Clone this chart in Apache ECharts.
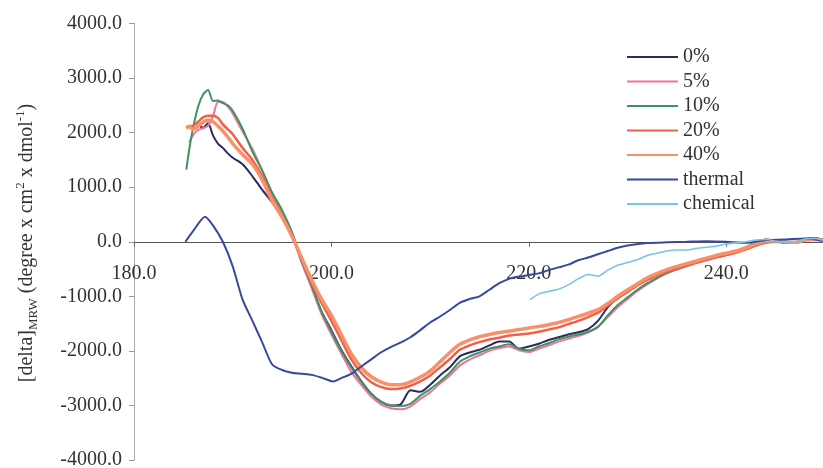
<!DOCTYPE html>
<html>
<head>
<meta charset="utf-8">
<title>CD spectra</title>
<script src="https://cdn.jsdelivr.net/npm/echarts@6/dist/echarts.min.js"></script>
<style>
  html, body { margin: 0; padding: 0; background: #ffffff; }
  #chart { width: 823px; height: 468px; }
</style>
</head>
<body>
<div id="chart"></div>
<script>
// Wavelength grid (nm) shared by the concentration series
const wavelength = [185.3, 185.6, 186, 186.5, 187, 187.5, 188, 188.5, 189, 189.5, 190,
  191, 192, 193, 194, 195, 196, 197, 198, 199, 200, 201, 202, 203, 204, 205, 206, 207, 208, 209,
  210, 211, 212, 213, 214, 215, 216, 217, 218, 219, 220, 221, 222, 223, 224, 225, 226, 227, 228, 229,
  230, 231, 232, 233, 234, 235, 236, 237, 238, 239, 240, 241, 242, 243, 244, 245, 246, 247, 248, 249, 249.8];

const conc0 = [null, null, null, 2150, 2090, 2170, 1950, 1800, 1720, 1620, 1540,
  1420, 1200, 950, 720, 470, 120, -380, -830, -1280, -1620, -1980, -2280, -2550, -2780, -2930, -3000, -2980, -2720, -2750,
  -2620, -2450, -2300, -2100, -2030, -1980, -1900, -1830, -1830, -1960, -1920, -1870, -1800, -1750, -1700, -1660, -1600, -1450, -1200, -1020,
  -900, -780, -680, -600, -530, -470, -420, -370, -320, -270, -230, -180, -100, -10, 40, 20, -10, -10, 50, 70, 40];

const conc5 = [null, 1820, 1960, 2050, 2080, 2130, 2300, 2560, 2560, 2480, 2350,
  2020, 1700, 1300, 880, 540, 150, -380, -850, -1330, -1700, -2050, -2380, -2620, -2830, -2980, -3050, -3070, -3020, -2880,
  -2760, -2600, -2450, -2270, -2160, -2080, -2000, -1950, -1920, -1990, -2020, -1960, -1900, -1830, -1780, -1730, -1660, -1560, -1380, -1200,
  -1050, -900, -780, -670, -580, -510, -450, -390, -340, -290, -250, -200, -120, -30, 20, 10, -20, -20, 40, 60, 30];

const conc10 = [1320, 1700, 2100, 2480, 2700, 2780, 2580, 2590, 2540, 2500, 2400,
  2070, 1650, 1300, 900, 580, 180, -350, -800, -1280, -1650, -2000, -2300, -2560, -2780, -2930, -3000, -3010, -2970, -2820,
  -2700, -2560, -2400, -2200, -2100, -2030, -1960, -1920, -1880, -1960, -1990, -1920, -1860, -1790, -1740, -1700, -1650, -1560, -1350, -1160,
  -1020, -880, -760, -660, -570, -500, -440, -380, -330, -280, -240, -190, -110, -20, 30, 20, -20, -10, 50, 60, 30];

const conc20 = [2100, 2120, 2130, 2200, 2280, 2310, 2310, 2270, 2150, 2060, 1970,
  1720, 1500, 1200, 800, 480, 120, -320, -750, -1120, -1450, -1800, -2150, -2400, -2570, -2660, -2700, -2690, -2640, -2560,
  -2450, -2300, -2150, -1980, -1900, -1840, -1790, -1760, -1720, -1700, -1680, -1650, -1610, -1570, -1510, -1450, -1380, -1300, -1170, -1040,
  -920, -800, -700, -620, -550, -490, -430, -380, -330, -280, -240, -200, -140, -70, -20, 0, -20, -20, 30, 50, 20];

const conc40 = [2080, 2110, 2060, 2120, 2190, 2230, 2200, 2120, 2030, 1920, 1800,
  1600, 1420, 1130, 750, 450, 100, -300, -700, -1050, -1350, -1700, -2050, -2300, -2470, -2570, -2620, -2620, -2570, -2480,
  -2370, -2200, -2030, -1880, -1800, -1740, -1700, -1665, -1640, -1610, -1580, -1555, -1520, -1480, -1430, -1370, -1310, -1245, -1130, -1000,
  -880, -770, -660, -580, -510, -450, -400, -350, -300, -250, -210, -170, -110, -40, 10, 20, 0, -10, 30, 40, 20];

// Thermally denatured sample
const thermalWl = [185.2, 186, 187.2, 188, 189, 190, 191, 192, 193, 194, 195, 196, 197, 198, 199, 200.2,
  201, 202, 203, 204, 205, 206, 207, 208, 209, 210, 211, 212, 213, 214, 215, 216, 217, 218, 219, 220,
  221, 222, 223, 224, 225, 226, 227, 228, 229, 230, 232, 234, 236, 238, 240, 242, 244, 246, 248, 249.8];
const thermal = [0, 200, 460, 300, 0, -450, -1060, -1450, -1850, -2250, -2350, -2400, -2420, -2440, -2490, -2560,
  -2500, -2420, -2290, -2160, -2030, -1930, -1850, -1750, -1620, -1480, -1370, -1250, -1120, -1050, -1000, -880, -760, -680, -640, -610,
  -580, -520, -470, -420, -340, -290, -230, -170, -110, -70, -25, -10, 0, 10, 0, -20, 30, 40, 60, 20];

// Chemically denatured sample
const chemicalWl = [220.1, 221, 222, 223, 224, 225, 226, 227, 228, 229, 230, 231, 232, 233, 234, 235,
  236, 237, 238, 239, 240, 241, 242, 243, 244, 245, 246, 247, 248, 249, 249.8];
const chemical = [-1060, -960, -910, -870, -790, -680, -600, -630, -520, -430, -380, -330, -250, -210, -170, -150,
  -150, -120, -100, -80, -40, -20, 0, 30, 40, 10, -10, 0, 50, 60, 30];

const xTicks = [180, 200, 220, 240];
const yTicks = [-4000, -3000, -2000, -1000, 0, 1000, 2000, 3000, 4000];

const seriesNames = ['0%', '5%', '10%', '20%', '40%', 'thermal', 'chemical'];
const seriesColors = ['#2b2b5e', '#f0739a', '#3d9460', '#f0604a', '#f8906a', '#3848a0', '#78c4e6'];
const seriesWidths = [2, 2, 2, 2.5, 3.5, 2, 1.6];

function pairs(xs, ys) {
  return xs.map((x, i) => [x, ys[i]]);
}

const seriesData = [
  pairs(wavelength, conc0),
  pairs(wavelength, conc5),
  pairs(wavelength, conc10),
  pairs(wavelength, conc20),
  pairs(wavelength, conc40),
  pairs(thermalWl, thermal),
  pairs(chemicalWl, chemical)
];

const FONT = '"Liberation Serif", "DejaVu Serif", serif';
const GRID_TOP = 23.5;
const GRID_BOTTOM = 8;
const CHART_H = 468;
// distance from the bottom of the plot to the zero line
const zeroLift = (CHART_H - GRID_BOTTOM - GRID_TOP) / 2;

const chart = echarts.init(document.getElementById('chart'), null, { renderer: 'canvas' });

chart.setOption({
  animation: false,
  backgroundColor: '#ffffff',
  grid: { left: 134, right: -2, top: GRID_TOP, bottom: GRID_BOTTOM, containLabel: false, outerBoundsMode: 'none' },
  legend: {
    orient: 'vertical',
    left: 627,
    top: 47,
    padding: 0,
    itemWidth: 51,
    itemHeight: 2,
    itemGap: 4.5,
    icon: 'rect',
    data: seriesNames,
    textStyle: { fontFamily: FONT, fontSize: 20, color: '#333' }
  },
  xAxis: {
    type: 'value',
    position: 'bottom',
    offset: -zeroLift,
    min: 180,
    max: 250,
    interval: 20,
    axisLine: { onZero: false, lineStyle: { color: '#555', width: 1 } },
    axisTick: { show: true, inside: false, length: 5, lineStyle: { color: '#666' } },
    axisLabel: {
      margin: 22,
      fontFamily: FONT, fontSize: 20, color: '#333',
      formatter: v => (xTicks.indexOf(v) >= 0 ? v.toFixed(1) : '')
    },
    splitLine: { show: false }
  },
  yAxis: {
    type: 'value',
    min: -4000,
    max: 4000,
    interval: 1000,
    axisLine: { show: true, lineStyle: { color: '#aaa', width: 1 } },
    axisTick: { show: true, length: 5, lineStyle: { color: '#999' } },
    axisLabel: {
      margin: 12,
      fontFamily: FONT, fontSize: 20, color: '#333',
      formatter: v => (yTicks.indexOf(v) >= 0 ? v.toFixed(1) : '')
    },
    splitLine: { show: false }
  },
  graphic: [{
    type: 'text',
    x: 27,
    y: 243,
    rotation: Math.PI / 2,
    style: {
      text: '[delta]{sub|MRW} (degree x cm{sup|2} x dmol{sup|-1})',
      fontFamily: FONT,
      fontSize: 20,
      fill: '#333',
      align: 'center',
      verticalAlign: 'middle',
      lineHeight: 26,
      rich: {
        sub: { fontFamily: FONT, fontSize: 13, fill: '#333', verticalAlign: 'bottom', lineHeight: 14 },
        sup: { fontFamily: FONT, fontSize: 13, fill: '#333', verticalAlign: 'top', lineHeight: 14 }
      }
    }
  }],
  series: seriesNames.map((name, i) => ({
    name: name,
    type: 'line',
    data: seriesData[i],
    showSymbol: false,
    symbol: 'none',
    smooth: 0.25,
    connectNulls: false,
    color: seriesColors[i],
    lineStyle: { color: seriesColors[i], width: seriesWidths[i] },
    z: 2 + i
  }))
});
</script>
</body>
</html>
